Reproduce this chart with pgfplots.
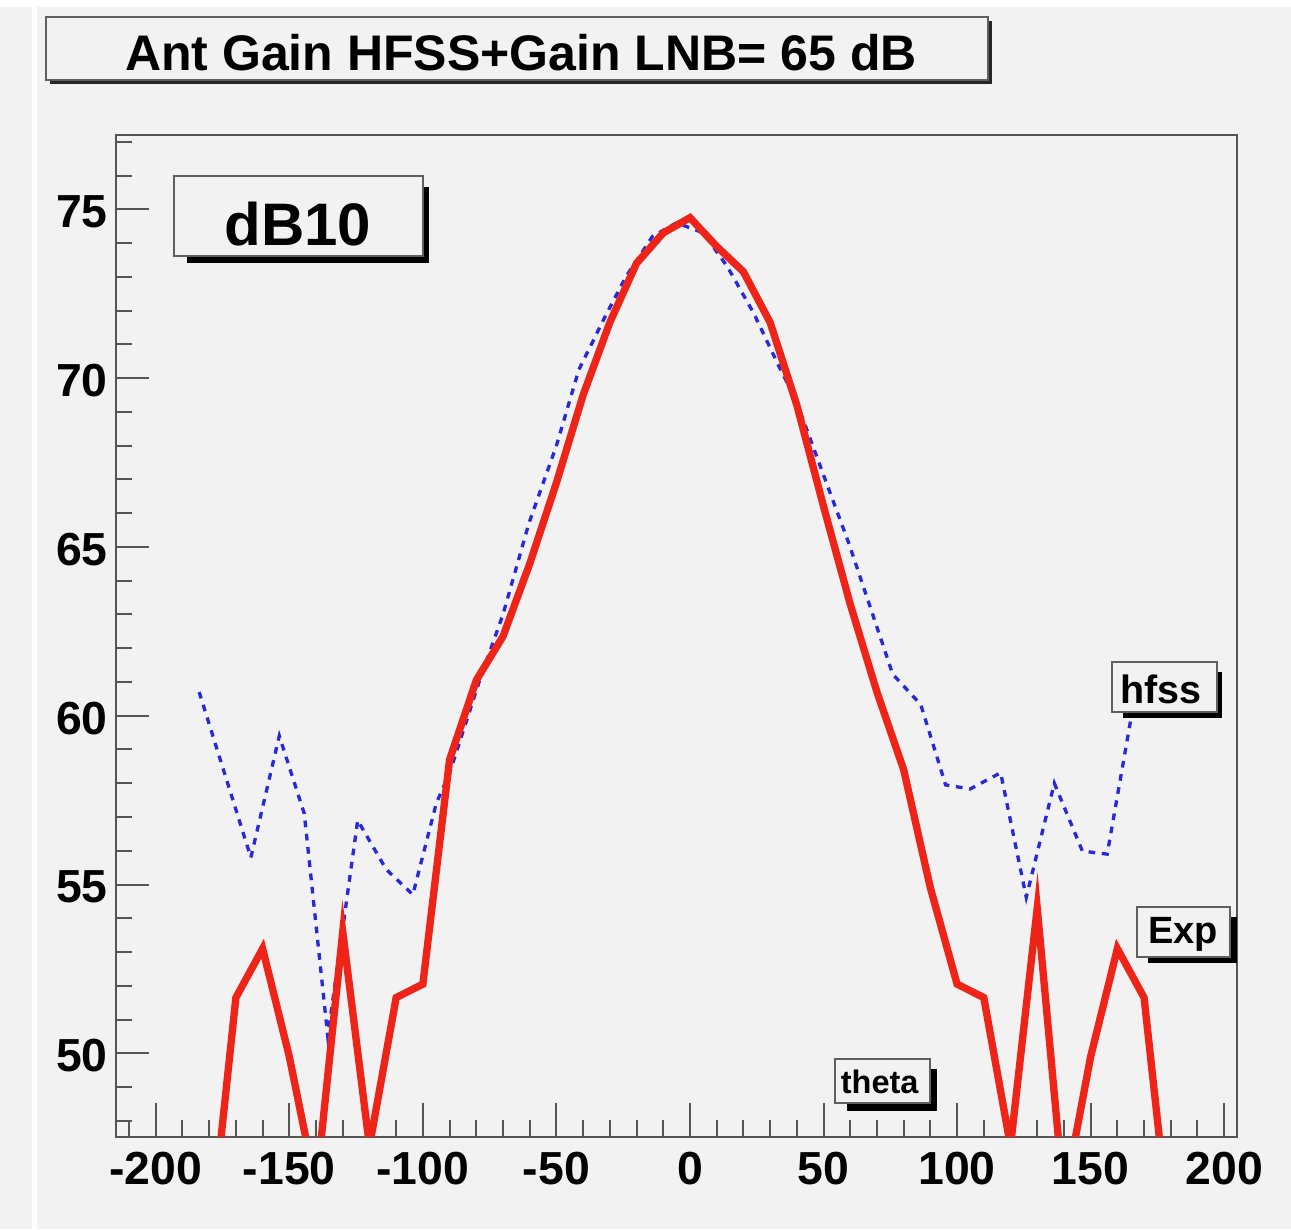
\documentclass[border=0pt]{standalone}
\usepackage{fontspec}
\setmainfont{Liberation Sans}
\usepackage{pgfplots}
\pgfplotsset{compat=1.18}
\definecolor{bg}{RGB}{242,242,242}
\definecolor{rootred}{RGB}{238,36,24}
\definecolor{rootblue}{RGB}{40,40,220}
\definecolor{axgray}{RGB}{85,85,85}
\definecolor{boxgray}{RGB}{95,95,95}
\begin{document}
\begin{tikzpicture}
\begin{scope}[x=0.3pt,y=-0.3pt]
\path[use as bounding box] (0,0) rectangle (1291,1229);
\fill[white] (0,0) rectangle (1291,1229);
\fill[bg] (0,7) rectangle (1291,1229);
\fill[white] (32,7) rectangle (37,1229);
\end{scope}
\begin{axis}[
  at={(34.71pt,-341.01pt)}, anchor=south west,
  width=336.48pt, height=300.51pt, scale only axis,
  xmin=-215, xmax=204.9, ymin=47.53, ymax=77.2,
  axis line style={axgray, line width=0.6pt},
  tick style={axgray, line width=0.6pt},
  major tick length=10pt, minor tick length=5pt,
  tick align=inside, tick pos=left,
  xtick={-200,-150,-100,-50,0,50,100,150,200},
  xticklabels={-200,-150,-100,-50,0,50,100,150,200},
  minor xtick={-210,-190,-180,-170,-160,-140,-130,-120,-110,-90,-80,-70,-60,-40,-30,-20,-10,10,20,30,40,60,70,80,90,110,120,130,140,160,170,180,190},
  ytick={50,55,60,65,70,75},
  yticklabels={50,55,60,65,70,75},
  minor ytick={48,49,51,52,53,54,56,57,58,59,61,62,63,64,66,67,68,69,71,72,73,74,76,77},
  ticklabel style={font=\fontsize{13.9}{16}\selectfont\bfseries, inner sep=0pt},
  xticklabel style={yshift=-4.5pt},
  yticklabel style={xshift=-2.2pt, yshift=-0.8pt},
]
\addplot[rootblue, line width=1.0pt, dash pattern=on 2pt off 2pt] coordinates {
(-183.75,60.7) (-164.4,55.8) (-153.75,59.4) (-144.4,57.1) (-135.6,50.5)
(-124.4,56.9) (-113.75,55.45) (-103.75,54.7) (-95,57.4) (-90,58.3)
(-78.75,61.05) (-70,63.0) (-60.3,65.7) (-50,68.0) (-41.6,70.25)
(-31.6,71.85) (-24,73.0) (-14,74.2) (-5,74.6) (5,74.3) (14,73.3)
(24,71.9) (33.3,70.35) (39.6,69.36) (52,66.7) (59.5,65.1) (69.5,62.74)
(75.9,61.23) (86.4,60.33) (95.7,57.95) (104.9,57.83) (116.3,58.31)
(125.9,54.62) (136.4,58.0) (146.9,55.99) (156.2,55.9) (165.5,60.1)
};
\addplot[rootred, line width=2.2pt, line join=miter] coordinates {
(-180,44.2) (-170,51.65) (-160,53.1) (-150,49.9) (-140,46.0) (-130,53.6)
(-120,47.25) (-110,51.65) (-100,52.05) (-90,58.7) (-80,61.05) (-70,62.35)
(-60,64.5) (-50,66.9) (-40,69.5) (-30,71.65) (-20,73.4) (-10,74.3)
(0,74.75) (10,73.9) (20,73.15) (30,71.65) (40,69.2) (50,66.2) (60,63.3)
(70,60.7) (80,58.4) (90,54.9) (100,52.05) (110,51.65) (120,47.25)
(130,54.3) (140,45.7) (150,49.9) (160,53.1) (170,51.65) (180,44.4)
};
\end{axis}
\begin{scope}[x=0.3pt,y=-0.3pt]
% title box
\fill[black!85] (50,21) rectangle (992,84);
\filldraw[fill=bg, draw=boxgray, line width=0.6pt] (46,16.7) rectangle (988.3,80);
\node[anchor=base, inner sep=0pt, font=\fontsize{15}{18}\selectfont\bfseries] at (521,70.7) {Ant Gain HFSS+Gain LNB= 65 dB};
% dB10 box
\fill[black] (186.7,186.7) rectangle (429.3,262.7);
\filldraw[fill=bg, draw=boxgray, line width=0.6pt] (174,176) rectangle (423.3,256);
\node[anchor=base, inner sep=0pt, font=\fontsize{18}{21}\selectfont\bfseries] at (298,245) {dB10};
% hfss box
\fill[black] (1123,671.7) rectangle (1221.7,718.3);
\filldraw[fill=bg, draw=boxgray, line width=0.6pt] (1111.7,661.7) rectangle (1216.7,711.7);
\node[anchor=base, inner sep=0pt, font=\fontsize{11.85}{14}\selectfont\bfseries] at (1161.2,703.3) {hfss};
% Exp box
\fill[black] (1148.3,916.7) rectangle (1236.7,962.7);
\filldraw[fill=bg, draw=boxgray, line width=0.6pt] (1136.7,906.7) rectangle (1230,956.7);
\node[anchor=base, inner sep=0pt, font=\fontsize{11.4}{14}\selectfont\bfseries] at (1183.3,943.3) {Exp};
% theta box
\fill[black] (847,1069) rectangle (936.7,1111.4);
\filldraw[fill=bg, draw=boxgray, line width=0.6pt] (835,1059.3) rectangle (930,1103.4);
\node[anchor=base, inner sep=0pt, font=\fontsize{9.75}{12}\selectfont\bfseries] at (879.7,1093.4) {theta};
\end{scope}
\end{tikzpicture}
\end{document}
